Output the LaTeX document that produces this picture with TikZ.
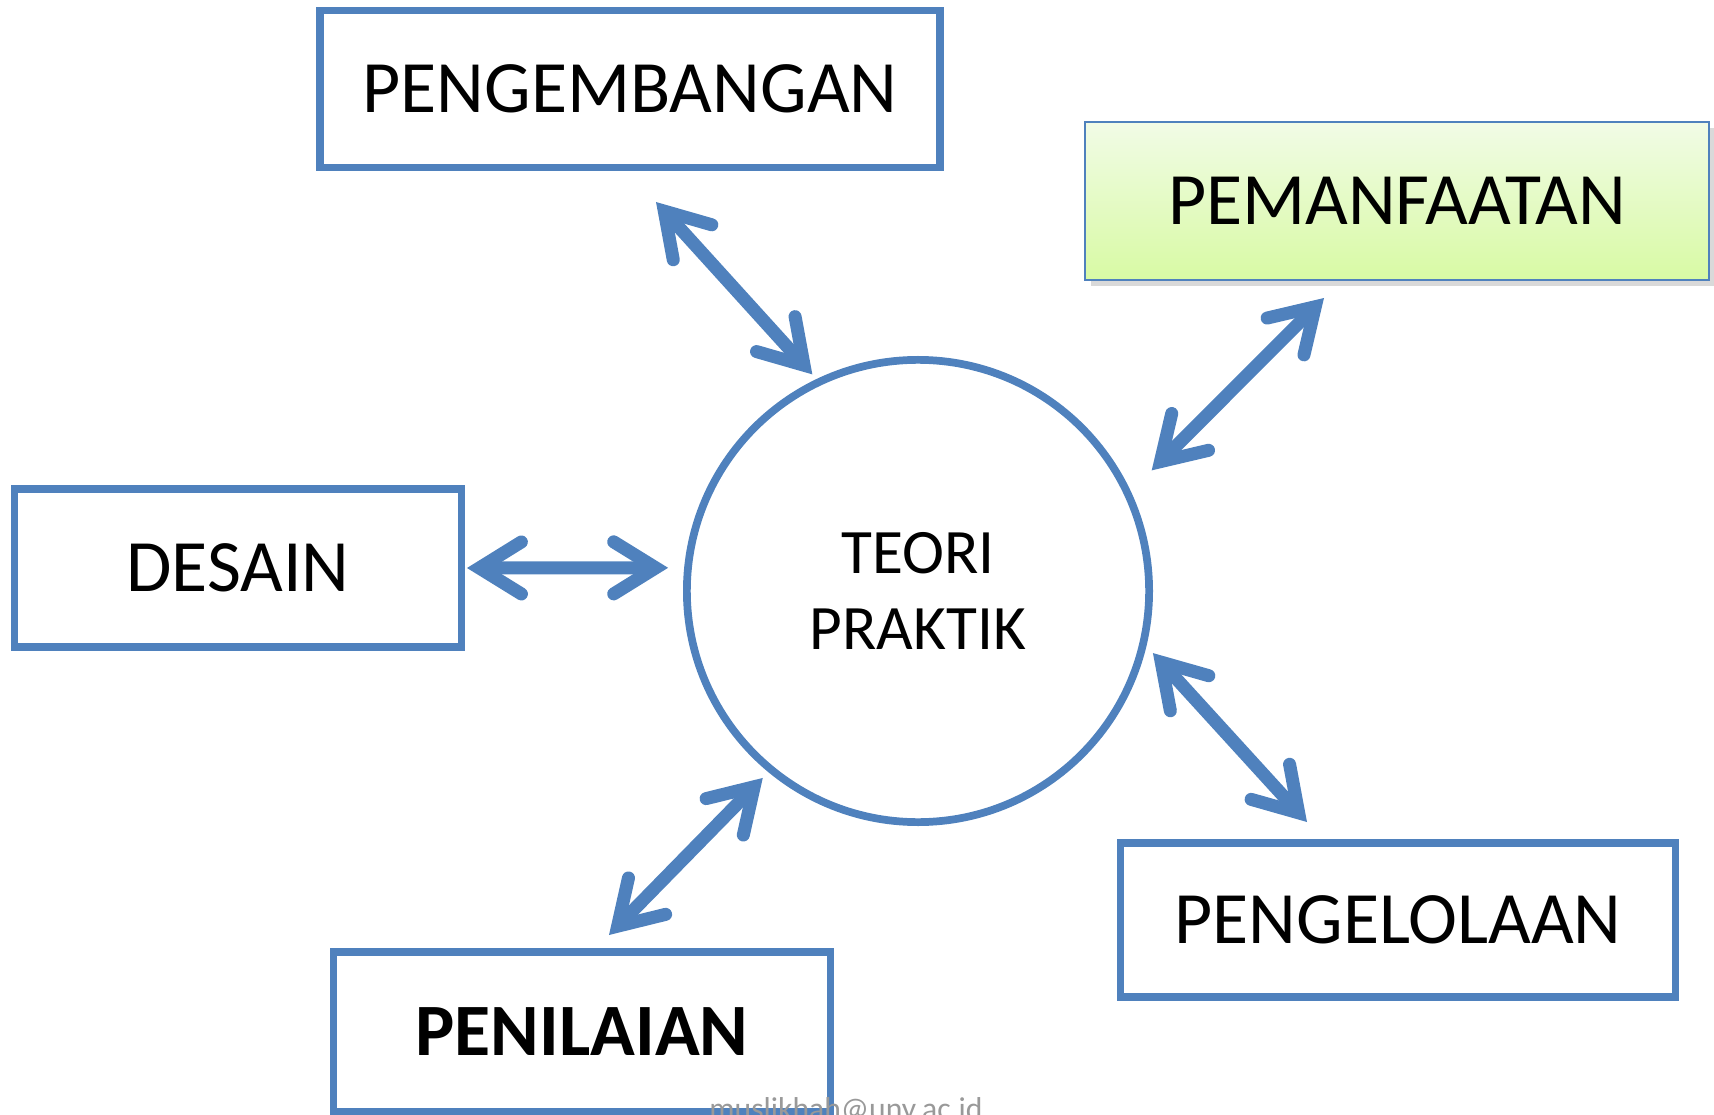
\documentclass[tikz,border=0pt]{standalone}
\usepackage{fontspec}
\setmainfont{Carlito}
\usetikzlibrary{arrows.meta, shadows}
\definecolor{accent}{HTML}{4F81BD}
\definecolor{limetop}{HTML}{F1FBE6}
\definecolor{limebot}{HTML}{D8FAA4}
\tikzset{
  block/.style = {rectangle, draw=accent, line width=2.1pt, minimum height=1.57cm, align=center, font=\fontsize{21}{25}\selectfont},
  hub/.style = {circle, draw=accent, line width=2.2pt, minimum size=4.62cm, align=center, font=\fontsize{18}{21.6}\selectfont},
  arrow/.style = {draw=accent, line width=3.7pt, >={Straight Barb[line cap=round, length=4.2mm, width=5.2mm]}, <->},
  note/.style = {text=black!40, font=\fontsize{9}{11}\selectfont}
}

\begin{document}
\begin{tikzpicture}[x=0.01cm, y=0.01cm]
  \useasboundingbox (0,0) rectangle (1714,1114);

  % Pusat
  \node[hub] (teori) at (918,523) {TEORI\\PRAKTIK};

  % Kotak
  \node[block, minimum width=6.20cm] (pengembangan) at (630,1025) {PENGEMBANGAN};
  \node[block, minimum width=6.23cm, minimum height=1.58cm, line width=0.6pt, top color=limetop, bottom color=limebot,
        drop shadow={opacity=0.3, shadow xshift=0.6mm, shadow yshift=-0.6mm}] (pemanfaatan) at (1397,913) {PEMANFAATAN};
  \node[block, minimum width=4.47cm, minimum height=1.58cm] (desain) at (238,546) {DESAIN};
  \node[block, minimum width=4.97cm, minimum height=1.60cm, font=\fontsize{21}{25}\selectfont\bfseries] (penilaian) at (582,82) {PENILAIAN};
  \node[block, minimum width=5.55cm, minimum height=1.54cm] (pengelolaan) at (1398,194) {PENGELOLAAN};

  % Panah
  \draw[arrow] ([shift={(26,-113)}]pengembangan.center) -- ([shift={(116:241)}]teori.center);
  \draw[arrow] ([shift={(-73,-97)}]pemanfaatan.center) -- ([shift={(27.3:263)}]teori.center);
  \draw[arrow] ([shift={(229,0)}]desain.center) -- ([shift={(174.7:251)}]teori.center);
  \draw[arrow] ([shift={(27,97)}]penilaian.center) -- ([shift={(230.3:243)}]teori.center);
  \draw[arrow] ([shift={(-91,98)}]pengelolaan.center) -- ([shift={(345.2:243)}]teori.center);

  \node[note, anchor=base] (mail) at (846,-5) {muslikhah@uny.ac.id};
\end{tikzpicture}
\end{document}
